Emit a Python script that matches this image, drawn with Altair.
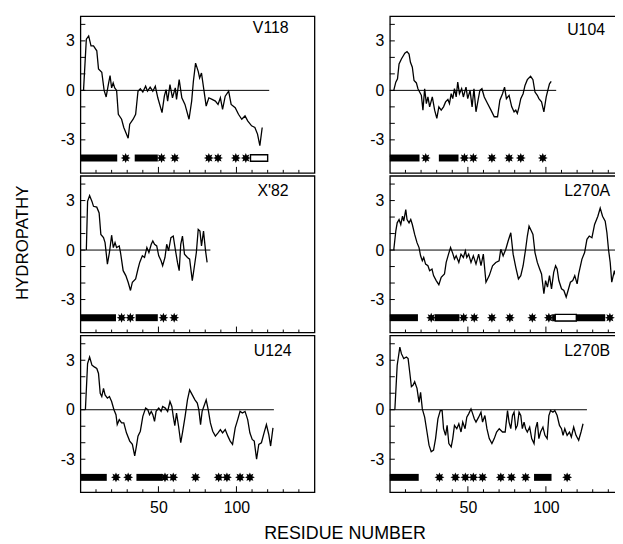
import math
import altair as alt
import pandas as pd

FONT = "Liberation Sans"

# ---------------- data ----------------
V118_res = [2, 3.8, 5.3, 6.8, 8.4, 10.5, 11.6, 13.7, 15.2, 16.5, 17.9, 19, 20, 21, 22, 23.2, 24.3, 26.4, 27.8, 30.6, 31.6, 33.8, 35.4, 36.9, 38.4, 40, 41.8, 43, 44.7, 46.4, 48, 49.6, 52.3, 53.8, 54.9, 55.9, 57.4, 59, 60.8, 61.6, 63.3, 65, 67, 69.6, 71.3, 72.4, 73.8, 75.5, 76.4, 77.6, 79.1, 80.6, 82.3, 84.4, 86.5, 88.2, 89.7, 91.1, 92.8, 95, 96.6, 99.2, 101.3, 103.4, 105.5, 107.2, 109.7, 111.8, 113.5, 115, 116.5]
V118_hyd = [0, 3.1, 3.3, 2.7, 2.7, 2.4, 1.3, 1.1, 0.0, -0.4, 0.35, 0.9, 0.15, 0.45, 0.15, 0, -1.45, -1.75, -2.25, -2.9, -2.05, -1.75, -1.45, -0.05, 0.1, -0.1, 0.25, -0.05, 0.2, -0.05, 0.25, -0.45, -1.35, -0.35, 0.05, -0.65, 0.35, -0.45, 0.15, -0.55, 0.65, -0.45, -0.85, -1.75, -0.65, 0.55, 1.65, 1.15, 0.75, 1.05, 0.05, -0.95, -0.45, -0.55, -0.65, -0.85, -0.45, -1.15, -0.35, -0.05, -0.85, -1.05, -1.45, -1.75, -1.55, -1.85, -2.15, -2.25, -2.65, -3.35, -2.25]
V118_bars = [(0, 23.6), (34.8, 49.6)]
V118_stars = [29, 52, 60.5, 82.3, 88.2, 99.6, 106]
V118_boxes = [(109, 120)]
V118_zero = 121

U104_res = [2.5, 3.8, 4.9, 5.9, 7.4, 9.6, 11, 12.3, 13.2, 14.4, 15.5, 17, 18, 20.2, 21.2, 22.3, 23.4, 24.4, 25.5, 27.2, 28.7, 30.1, 31.4, 32.9, 34.4, 35.7, 37.2, 38.2, 39.3, 40.3, 41.4, 42.5, 43.5, 44.6, 46, 47.1, 48.8, 49.9, 51.4, 52.7, 53.9, 55.2, 56.7, 57.7, 59, 60.5, 62.6, 64.8, 66.9, 69, 70.5, 72.2, 73.5, 74.7, 76.4, 78.1, 79.6, 80.7, 81.7, 82.8, 83.9, 85.4, 86.6, 88.1, 90.2, 91.7, 93, 94.5, 95.5, 97.2, 98.7, 100.2, 101.5, 102.3, 103.4]
U104_hyd = [0, 0.5, 0.7, 1.6, 1.9, 2.25, 2.35, 2.2, 1.7, 1.4, 0.6, 0.45, 0.1, -0.3, -1.2, 0.1, -0.8, -0.4, -1.0, -0.4, -1.2, -1.7, -1.0, -1.2, -1.0, -0.7, -0.55, -0.8, -0.2, -0.5, 0.1, -0.4, 0.5, -0.2, 0.1, -0.4, 0.2, -0.5, 0, -1.0, 0.1, -1.3, -0.5, 0, 0.1, -0.4, -0.8, -1.2, -1.6, -1.6, -0.6, -0.2, 0.2, -0.5, -0.3, -1.0, -1.3, -1.2, -1.4, -1.0, -0.5, -0.2, 0.3, 0.65, 0.85, 0.65, -0.1, -0.3, -0.5, -0.7, -1.3, -0.4, 0.1, 0.4, 0.55]
U104_bars = [(0, 19), (31.4, 44)]
U104_stars = [23, 47.8, 53.5, 65.4, 76.4, 83.9, 98]
U104_boxes = []
U104_zero = 106.6

X82_res = [3.8, 4.6, 5.9, 7.4, 8.4, 10.5, 12, 13.1, 14.8, 15.8, 17.3, 18.6, 20, 21.1, 22.2, 23.2, 24.9, 25.7, 27.4, 29.1, 30.6, 32.1, 33.3, 35.4, 36.9, 38, 39.7, 41.1, 42.6, 43.9, 45.4, 46.4, 47.5, 48.9, 50.2, 51.7, 52.7, 54.2, 55.3, 56.5, 58, 59.5, 60.8, 62.2, 63.3, 64.3, 65.4, 66.7, 68.6, 70, 71.7, 72.8, 74.3, 75.5, 76.6, 77.6, 78.9, 80.2, 81.2]
X82_hyd = [0, 2.95, 3.3, 2.95, 2.65, 2.6, 2.25, 0.95, 0.75, 0.45, -0.85, -0.15, 0.9, 0.15, 0.45, 0.15, 0.25, -0.15, -1.25, -1.55, -1.95, -2.45, -1.95, -1.75, -1.15, -0.75, -0.35, -0.45, 0.15, -0.15, 0.35, 0.55, 0.35, 0.25, -0.35, -0.65, -0.95, -0.45, 0.35, -0.05, 0.75, 0.85, 0.05, -0.75, -1.25, 0.35, 0.85, -0.25, -0.45, -0.55, -1.85, -1.15, -0.15, 1.25, 1.15, 0.25, 1.15, -0.05, -0.75]
X82_bars = [(0, 22.8), (35.4, 49.6)]
X82_stars = [26.4, 32, 53.2, 60.1]
X82_boxes = []
X82_zero = 83.3

L270A_res = [2.5, 3.8, 4.7, 5.9, 7, 8.1, 8.9, 10.2, 11, 12.3, 13.4, 14.4, 15.9, 17.4, 18.7, 19.7, 20.8, 21.7, 22.9, 24.4, 25.5, 27, 28, 29.7, 31.4, 32.9, 35, 36.1, 37.6, 38.9, 40.3, 41.4, 42.5, 44.2, 45.6, 47.1, 48.4, 49.3, 50.5, 52, 53.5, 55.2, 56.9, 58.4, 59.9, 61.6, 63.7, 65.8, 67.9, 70, 71.1, 72.6, 74.3, 75.8, 77.5, 79, 80.7, 82.4, 83.9, 85.4, 87, 88.1, 89.2, 90.7, 91.7, 93, 94.5, 96, 97.2, 98.7, 99.8, 101, 102.3, 103.6, 105, 106.2, 107.2, 108.3, 110, 111.5, 113, 114.2, 115.7, 117.2, 118.5, 120, 121, 123.1, 124.8, 126.3, 127.8, 129.5, 131.2, 133.3, 134.8, 136.3, 138, 139.1, 140.1, 141.2, 142.2, 143.9, 145.4, 146.5, 147.6]
L270A_hyd = [0, 1.15, 1.65, 1.85, 1.55, 2.05, 1.75, 2.45, 1.85, 1.65, 1.85, 1.55, 0.95, 0.45, 0.15, -0.35, -0.65, -0.45, -0.85, -0.95, -1.25, -1.15, -1.55, -1.85, -2.1, -1.65, -1.45, -0.75, -0.25, 0.15, -0.2, -0.55, -0.35, -0.75, -0.25, -0.45, -0.05, -0.45, -0.25, -0.75, -0.35, -0.85, -0.25, -0.95, -0.25, -1.95, -1.55, -0.95, -0.75, -0.65, 0.05, -0.35, 0.05, 0.55, 1.05, -0.25, -1.05, -1.75, -1.55, -0.95, 0.05, 0.85, 1.45, 1.15, 0.95, -0.15, -0.75, -1.15, -1.45, -2.65, -1.85, -2.25, -1.55, -2.35, -1.35, -0.95, -1.15, -1.85, -2.35, -2.45, -2.85, -2.45, -1.95, -1.85, -1.55, -2.05, -1.45, -0.55, -0.15, 0.65, 0.85, 0.75, 1.55, 2.05, 2.55, 2.05, 1.75, 1.05, 0.05, -0.75, -1.95, -1.25, -1.85, -0.95, -1.35]
L270A_bars = [(0, 18), (28.7, 44.6), (104, 138)]
L270A_stars = [26.5, 47.3, 54.1, 65.4, 76.9, 91.3, 101.9, 141]
L270A_boxes = [(106, 119.5)]
L270A_zero = 150

U124_res = [3.2, 4.6, 5.9, 7.4, 8.9, 10.5, 11.6, 12.7, 13.7, 14.8, 15.8, 17.3, 18.6, 20, 21.5, 22.8, 23.6, 24.9, 26.4, 27.8, 29.5, 31.6, 33.3, 34.8, 35.9, 36.9, 38.4, 40, 41.8, 43.2, 44.3, 45.4, 46.4, 47.5, 48.5, 50.2, 51.7, 52.7, 54.4, 55.9, 57.4, 58.6, 59.5, 60.5, 61.6, 62.9, 64.3, 65.4, 67.1, 68.6, 70, 71.7, 73.4, 74.9, 75.9, 77, 78, 79.1, 80.6, 81.9, 83.3, 84.8, 86.5, 88.2, 89.7, 91.1, 92.8, 94.5, 96, 97.5, 99.2, 100.8, 102.3, 103.8, 105.5, 107.2, 108.6, 110.1, 111.4, 112.9, 114.3, 116, 117.7, 119.2, 120.7, 121.9, 123.4]
U124_hyd = [0, 2.8, 3.2, 2.7, 2.6, 2.5, 2.2, 1.0, 0.8, 1.3, 0.9, 0.7, 0.8, 0.5, 0, -0.3, -0.9, -0.6, -0.8, -0.8, -1.4, -1.9, -2.1, -2.8, -2.2, -1.6, -1.3, -0.4, 0.1, 0, -0.3, -0.1, -0.3, -0.7, -0.1, 0.1, -0.1, 0.2, 0.1, -0.1, 0.5, 0.2, -0.4, -0.96, -0.2, -1.0, -2.0, -1.4, -0.4, 0.6, 1.2, 0.9, 0.6, 0.4, 0, -0.9, -0.1, 0.2, 0.6, 0, -0.8, -1.3, -1.6, -1.4, -1.2, -1.4, -1.2, -1.6, -1.9, -2.1, -1.1, -0.6, -0.1, -0.2, -0.1, -0.6, -1.4, -1.8, -1.9, -3.0, -2.1, -2.0, -1.4, -0.9, -1.5, -2.2, -1.1]
U124_bars = [(0, 16.9), (35.9, 52.7)]
U124_stars = [22.8, 30.6, 54.2, 59.5, 73.8, 88.6, 93.9, 102.3, 108.6]
U124_boxes = []
U124_zero = 124

L270B_res = [3.2, 4.7, 6.4, 7.4, 8.9, 10.6, 11.7, 12.7, 13.8, 14.9, 15.9, 17.4, 18.7, 19.7, 20.8, 22.3, 23.8, 25.1, 26.5, 28, 29.3, 30.8, 32.3, 33.5, 34.4, 35.7, 36.7, 37.8, 39.3, 40.3, 41.4, 42.9, 44.2, 45.6, 46.7, 48.2, 49.3, 50.5, 52, 53.1, 54.1, 55.2, 56.9, 58.4, 59.4, 60.9, 62.2, 63.7, 65.4, 66.9, 68.4, 70.1, 72.2, 73.9, 75.4, 76.4, 77.5, 78.6, 79.6, 80.7, 81.7, 82.8, 83.9, 84.9, 86, 87, 88.1, 89.6, 90.9, 92.4, 93.4, 94.5, 95.5, 96.6, 98.1, 99.4, 100.8, 101.9, 103, 104.5, 105.7, 107.2, 108.7, 110, 111, 112.1, 113.6, 115.1, 116.3, 117.8, 119.3, 121, 122.5, 123.8]
L270B_hyd = [0, 2.7, 3.8, 3.4, 3.1, 3.2, 3.1, 2.3, 1.4, 1.5, 1.7, 1.3, 0.45, 1.05, 0.05, -0.45, -1.35, -2.15, -2.55, -2.45, -1.75, -0.55, -0.05, -0.05, -1.15, -1.55, -0.95, -2.05, -2.25, -1.75, -0.95, -1.15, -0.85, -1.35, -0.75, -1.15, -0.45, -0.25, 0.05, -0.25, -0.55, -0.75, -0.45, -0.15, -0.75, -0.35, -1.15, -1.75, -2.05, -1.75, -1.35, -1.15, -1.35, -1.35, -0.05, -0.75, -1.15, -0.35, -0.15, -1.15, -0.95, -0.15, -0.35, -1.15, -0.75, -1.15, -1.35, -1.05, -1.75, -2.05, -1.15, -0.75, -1.75, -1.35, -1.05, -1.55, -1.75, -0.35, -0.05, -0.15, -0.05, -0.35, -0.95, -1.15, -1.55, -1.15, -1.55, -1.35, -1.65, -1.05, -1.55, -1.85, -1.35, -0.85]
L270B_bars = [(0, 18.5), (92.4, 103.6)]
L270B_stars = [31.8, 42, 48.4, 53.5, 59.4, 71.1, 77.9, 87, 113.6]
L270B_boxes = []
L270B_zero = 126.3

ROW_Y = -4.1          # level of the marker row
Y_TICKS = [-4, -3, -2, -1, 0, 1, 2, 3, 4]
Y_LABELS = [-3, 0, 3]
X_TICKS = [10, 20, 30, 40, 60, 70, 80, 90, 110, 120, 130, 140]
X_MAJOR = [50, 100]

# ---------------- styling ----------------
W, H = 236, 158
XS = alt.Scale(domain=[0, 150], nice=False, zero=False)
YS = alt.Scale(domain=[-5.0, 4.5], nice=False, zero=False)

pts = []
for i in range(16):
    a = math.pi * i / 8 - math.pi / 2
    r = 1.0 if i % 2 == 0 else 0.55
    pts.append(f"{r*math.cos(a):.3f},{r*math.sin(a):.3f}")
STAR = "M" + "L".join(pts) + "Z"


def panel(name, res, hyd, zero_end, bars, stars, boxes, tx, ty, bottom, ytitle):
    if bottom:
        xaxis = alt.Axis(values=X_MAJOR, ticks=False, domain=False, grid=False,
                         labelFontSize=16, labelPadding=7, labelFont=FONT,
                         labelColor="black", title=None)
    else:
        xaxis = None
    yargs = dict(values=Y_LABELS, ticks=False, domain=False, grid=False,
                 labelFontSize=16, labelPadding=6, labelFont=FONT, labelColor="black",
                 minExtent=25, maxExtent=25,
                 labelExpr="datum.value < 0 ? '-' + (-datum.value) : datum.label")
    if ytitle is not None:
        yargs.update(title=ytitle, titleFont=FONT, titleFontSize=17,
                     titleFontWeight="normal", titleColor="black", titlePadding=24,
                     titleY=67)
    else:
        yargs.update(title=None)
    yaxis = alt.Axis(**yargs)

    def X(f):
        return alt.X(f, type="quantitative", scale=XS, axis=xaxis)

    def Y(f):
        return alt.Y(f, type="quantitative", scale=YS, axis=yaxis)

    layers = []
    zdf = pd.DataFrame({"x0": [0], "x1": [zero_end], "y": [0]})
    layers.append(alt.Chart(zdf).mark_rule(color="black", strokeWidth=1)
                  .encode(x=X("x0"), x2="x1", y=Y("y")))
    cdf = pd.DataFrame({"res": res, "hyd": hyd})
    layers.append(alt.Chart(cdf).mark_line(color="black", strokeWidth=1.3)
                  .encode(x=X("res"), y=Y("hyd")))
    bdf = pd.DataFrame({"s": [b[0] for b in bars], "e": [b[1] for b in bars],
                        "y": [ROW_Y] * len(bars)})
    layers.append(alt.Chart(bdf).mark_rule(color="black", strokeWidth=7, strokeCap="butt")
                  .encode(x=X("s"), x2="e", y=Y("y")))
    if boxes:
        odf = pd.DataFrame({"s": [b[0] for b in boxes], "e": [b[1] for b in boxes],
                            "y0": [ROW_Y - 0.2] * len(boxes),
                            "y1": [ROW_Y + 0.2] * len(boxes)})
        layers.append(alt.Chart(odf).mark_rect(fill="white", stroke="black", strokeWidth=1.4)
                      .encode(x=X("s"), x2="e", y=Y("y0"), y2="y1"))
    sdf = pd.DataFrame({"p": stars, "y": [ROW_Y] * len(stars)})
    layers.append(alt.Chart(sdf).mark_point(shape=STAR, filled=True, size=100,
                                            color="black", opacity=1)
                  .encode(x=X("p"), y=Y("y")))
    ydf = pd.DataFrame({"v": Y_TICKS})
    layers.append(alt.Chart(ydf).mark_rule(color="black", strokeWidth=1)
                  .encode(y=Y("v"), x=alt.value(0), x2=alt.value(5)))
    xdf = pd.DataFrame({"t": X_TICKS})
    layers.append(alt.Chart(xdf).mark_rule(color="black", strokeWidth=1)
                  .encode(x=X("t"), y=alt.value(H), y2=alt.value(H - 3)))
    mdf = pd.DataFrame({"t": X_MAJOR})
    layers.append(alt.Chart(mdf).mark_rule(color="black", strokeWidth=1)
                  .encode(x=X("t"), y=alt.value(H), y2=alt.value(H - 6)))
    tdf = pd.DataFrame({"name": [name]})
    layers.append(alt.Chart(tdf).mark_text(align="right", baseline="alphabetic",
                                           font=FONT, fontSize=16, color="black")
                  .encode(text="name:N", x=alt.value(tx), y=alt.value(ty)))
    return alt.layer(*layers).properties(width=W, height=H)


left = alt.vconcat(
    panel("V118", V118_res, V118_hyd, V118_zero, V118_bars, V118_stars, V118_boxes, 210, 17, False, " "),
    panel("X'82", X82_res, X82_hyd, X82_zero, X82_bars, X82_stars, X82_boxes, 210, 20, False, "HYDROPATHY"),
    panel("U124", U124_res, U124_hyd, U124_zero, U124_bars, U124_stars, U124_boxes, 213, 21, True, " "),
    spacing=0,
)
right = alt.vconcat(
    panel("U104", U104_res, U104_hyd, U104_zero, U104_bars, U104_stars, U104_boxes, 217, 19, False, None),
    panel("L270A", L270A_res, L270A_hyd, L270A_zero, L270A_bars, L270A_stars, L270A_boxes, 222, 20, False, None),
    panel("L270B", L270B_res, L270B_hyd, L270B_zero, L270B_bars, L270B_stars, L270B_boxes, 222, 21, True, None),
    spacing=0,
)

chart = alt.hconcat(left, right, spacing=49).properties(
    title=alt.TitleParams("RESIDUE NUMBER", orient="bottom", anchor="middle",
                          font=FONT, fontSize=18, fontWeight="normal", color="black",
                          offset=10, dx=26),
    padding={"left": 5, "top": 5, "right": -11, "bottom": -3},
    background="white",
).configure_view(stroke="black", strokeWidth=1.3)

chart.save("out.html", embed_options={"renderer": "svg", "actions": False})
